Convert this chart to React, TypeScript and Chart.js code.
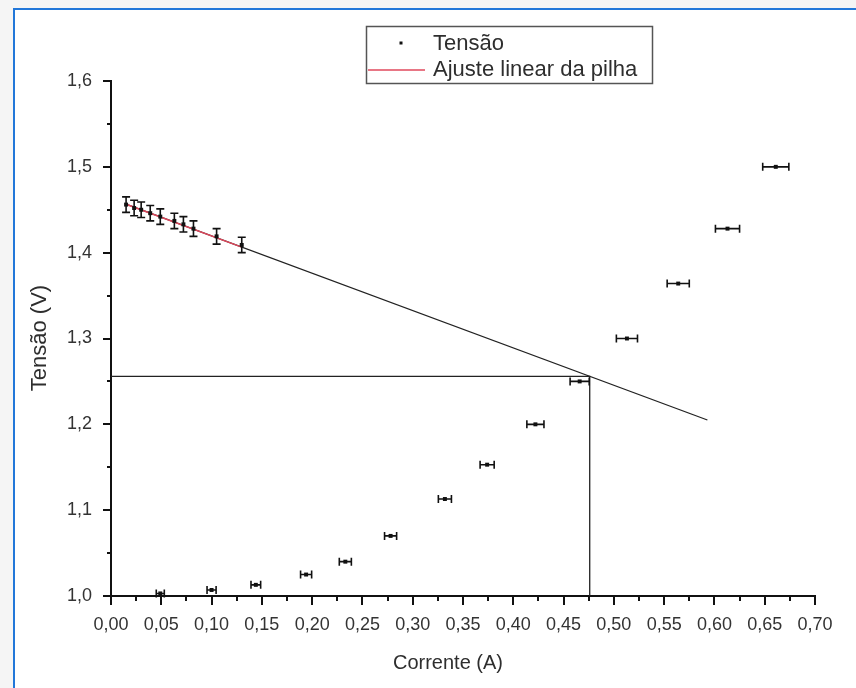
import React, { useEffect, useRef } from 'react';
import { Chart, registerables } from 'chart.js';

Chart.register(...registerables);

// Medidas da pilha (região linear) — corrente (A), tensão (V) e incerteza em V
const pilhaCorrente = [0.015, 0.023, 0.030, 0.039, 0.049, 0.063, 0.072, 0.082, 0.105, 0.130];
const pilhaTensao = [1.456, 1.452, 1.450, 1.446, 1.442, 1.437, 1.433, 1.428, 1.419, 1.409];
const pilhaErroTensao = [0.009, 0.009, 0.009, 0.009, 0.009, 0.009, 0.009, 0.009, 0.009, 0.009];

// Curva característica — corrente (A), tensão (V) e incerteza em A
const curvaCorrente = [0.049, 0.100, 0.144, 0.194, 0.233, 0.278, 0.332, 0.374, 0.422, 0.466, 0.513, 0.564, 0.613, 0.661];
const curvaTensao = [1.003, 1.007, 1.013, 1.025, 1.040, 1.070, 1.113, 1.153, 1.200, 1.250, 1.300, 1.364, 1.428, 1.500];
const curvaErroCorrente = [0.004, 0.0045, 0.0048, 0.0055, 0.006, 0.006, 0.0065, 0.007, 0.0085, 0.0095, 0.0105, 0.011, 0.012, 0.013];

// Ajuste linear V = a + b·I
const ajusteIntercepto = 1.463;
const ajusteInclinacao = -0.435;
const ajusteFaixaVermelha = [0.015, 0.13];
const ajusteFaixaPreta = [0.015, 0.593];
const correnteCruzamento = 0.476;

// Marcas dos eixos
const xTickValores = [0, 0.05, 0.1, 0.15, 0.2, 0.25, 0.3, 0.35, 0.4, 0.45, 0.5, 0.55, 0.6, 0.65, 0.7];
const yTickValores = [1.0, 1.1, 1.2, 1.3, 1.4, 1.5, 1.6];

const legendaRotulos = ['Tensão', 'Ajuste linear da pilha'];
const tituloX = 'Corrente (A)';
const tituloY = 'Tensão (V)';

const FONT = '"Liberation Sans", Arial, sans-serif';

const ajuste = (i: number) => ajusteIntercepto + ajusteInclinacao * i;
const virgula = (v: number, d: number) => v.toFixed(d).replace('.', ',');

const errorBarsPlugin = {
  id: 'errorBars',
  afterDatasetsDraw(chart: any) {
    const { ctx } = chart;
    const xs = chart.scales.x;
    const ys = chart.scales.y;
    ctx.save();
    ctx.strokeStyle = '#111';
    ctx.lineWidth = 1.6;
    chart.data.datasets.forEach((ds: any) => {
      const ex: number[] | undefined = ds.errX;
      const ey: number[] | undefined = ds.errY;
      if (!ex && !ey) return;
      ds.data.forEach((p: any, i: number) => {
        const px = xs.getPixelForValue(p.x);
        const py = ys.getPixelForValue(p.y);
        ctx.beginPath();
        if (ex && ex[i]) {
          const l = xs.getPixelForValue(p.x - ex[i]);
          const r = xs.getPixelForValue(p.x + ex[i]);
          ctx.moveTo(l, py); ctx.lineTo(r, py);
          ctx.moveTo(l, py - 4); ctx.lineTo(l, py + 4);
          ctx.moveTo(r, py - 4); ctx.lineTo(r, py + 4);
        }
        if (ey && ey[i]) {
          const t = ys.getPixelForValue(p.y + ey[i]);
          const b = ys.getPixelForValue(p.y - ey[i]);
          ctx.moveTo(px, t); ctx.lineTo(px, b);
          ctx.moveTo(px - 4, t); ctx.lineTo(px + 4, t);
          ctx.moveTo(px - 4, b); ctx.lineTo(px + 4, b);
        }
        ctx.stroke();
      });
    });
    ctx.restore();
  },
};

const axisTicksPlugin = {
  id: 'axisTicks',
  afterDraw(chart: any) {
    const { ctx, chartArea } = chart;
    const xs = chart.scales.x;
    const ys = chart.scales.y;
    ctx.save();
    ctx.strokeStyle = '#111';
    ctx.lineWidth = 2;
    ctx.beginPath();
    for (let k = 0; k <= 28; k++) {
      const v = k * 0.025;
      const px = Math.round(xs.getPixelForValue(v));
      const len = k % 2 === 0 ? 9 : 5;
      ctx.moveTo(px, chartArea.bottom);
      ctx.lineTo(px, chartArea.bottom + len);
    }
    for (let k = 0; k <= 12; k++) {
      const v = 1 + k * 0.05;
      const py = Math.round(ys.getPixelForValue(v));
      const len = k % 2 === 0 ? 8 : 4;
      ctx.moveTo(chartArea.left, py);
      ctx.lineTo(chartArea.left - len, py);
    }
    ctx.stroke();

    // Títulos dos eixos
    ctx.fillStyle = '#2e2e2e';
    ctx.textAlign = 'center';
    ctx.textBaseline = 'middle';
    ctx.font = `20px ${FONT}`;
    ctx.fillText(tituloX, 448, 663);
    ctx.translate(40, 338);
    ctx.rotate(-Math.PI / 2);
    ctx.font = `22px ${FONT}`;
    ctx.fillText(tituloY, 0, 0);
    ctx.restore();
  },
};

const legendPlugin = {
  id: 'boxLegend',
  afterDraw(chart: any) {
    const { ctx } = chart;
    ctx.save();
    ctx.strokeStyle = '#555';
    ctx.lineWidth = 1.5;
    ctx.strokeRect(366.5, 26.5, 286, 57);
    ctx.fillStyle = '#111';
    ctx.fillRect(399.5, 41.5, 3, 3);
    ctx.strokeStyle = '#e0485c';
    ctx.lineWidth = 1.5;
    ctx.beginPath();
    ctx.moveTo(368, 70);
    ctx.lineTo(425, 70);
    ctx.stroke();
    ctx.fillStyle = '#2e2e2e';
    ctx.font = `22px ${FONT}`;
    ctx.textBaseline = 'alphabetic';
    ctx.textAlign = 'left';
    ctx.fillText(legendaRotulos[0], 433, 50);
    ctx.fillText(legendaRotulos[1], 433, 76);
    ctx.restore();
  },
};

export default function App() {
  const canvasRef = useRef<HTMLCanvasElement | null>(null);

  useEffect(() => {
    const canvas = canvasRef.current;
    if (!canvas) return;

    const pilha = pilhaCorrente.map((x, i) => ({ x, y: pilhaTensao[i] }));
    const curva = curvaCorrente.map((x, i) => ({ x, y: curvaTensao[i] }));
    const retaVermelha = ajusteFaixaVermelha.map((x) => ({ x, y: ajuste(x) }));
    const retaPreta = ajusteFaixaPreta.map((x) => ({ x, y: ajuste(x) }));
    const vCruz = ajuste(correnteCruzamento);
    const guias = [
      { x: 0, y: vCruz },
      { x: correnteCruzamento, y: vCruz },
      { x: correnteCruzamento, y: 1.0 },
    ];

    const chart = new Chart(canvas, {
      type: 'scatter',
      data: {
        datasets: [
          {
            label: legendaRotulos[0],
            data: pilha,
            errY: pilhaErroTensao,
            pointStyle: 'rect',
            pointRadius: 2.8,
            backgroundColor: '#111',
            borderColor: '#111',
            borderWidth: 0,
          } as any,
          {
            label: legendaRotulos[0] + ' (curva)',
            data: curva,
            errX: curvaErroCorrente,
            pointStyle: 'rect',
            pointRadius: 2.8,
            backgroundColor: '#111',
            borderColor: '#111',
            borderWidth: 0,
          } as any,
          {
            type: 'line',
            label: legendaRotulos[1],
            data: retaVermelha,
            borderColor: '#e0485c',
            borderWidth: 1.5,
            pointRadius: 0,
            showLine: true,
            fill: false,
          } as any,
          {
            type: 'line',
            label: 'reta',
            data: retaPreta,
            borderColor: '#222',
            borderWidth: 1.3,
            pointRadius: 0,
            showLine: true,
            fill: false,
          } as any,
          {
            type: 'line',
            label: 'guias',
            data: guias,
            borderColor: '#222',
            borderWidth: 1.3,
            pointRadius: 0,
            showLine: true,
            fill: false,
          } as any,
        ],
      },
      options: {
        responsive: false,
        animation: false,
        events: [],
        layout: { padding: { top: 81, right: 41, bottom: 0, left: 0 } },
        plugins: {
          legend: { display: false },
          tooltip: { enabled: false },
        },
        scales: {
          x: {
            type: 'linear',
            position: 'bottom',
            min: 0,
            max: 0.7,
            afterBuildTicks: (s: any) => {
              s.ticks = xTickValores.map((value) => ({ value }));
            },
            afterFit: (s: any) => {
              s.height = 92;
              s.paddingLeft = 0;
              s.paddingRight = 0;
            },
            grid: { display: false, drawTicks: false },
            border: { display: true, color: '#111', width: 2 },
            ticks: {
              padding: 18,
              color: '#333',
              font: { family: FONT, size: 18 },
              maxRotation: 0,
              autoSkip: false,
              callback: (v: any) => virgula(Number(v), 2),
            },
            title: { display: false },
          },
          y: {
            type: 'linear',
            position: 'left',
            min: 1.0,
            max: 1.6,
            afterBuildTicks: (s: any) => {
              s.ticks = yTickValores.map((value) => ({ value }));
            },
            afterFit: (s: any) => {
              s.width = 111;
              s.paddingTop = 0;
              s.paddingBottom = 0;
            },
            grid: { display: false, drawTicks: false },
            border: { display: true, color: '#111', width: 2 },
            ticks: {
              padding: 19,
              color: '#333',
              font: { family: FONT, size: 18 },
              autoSkip: false,
              callback: (v: any) => virgula(Number(v), 1),
            },
            title: { display: false },
          },
        },
      },
      plugins: [errorBarsPlugin, axisTicksPlugin, legendPlugin],
    });

    return () => chart.destroy();
  }, []);

  return (
    <div
      style={{
        position: 'fixed',
        left: 0,
        top: 0,
        width: 856,
        height: 688,
        background: '#f5f5f5',
        overflow: 'hidden',
      }}
    >
      <div
        style={{
          position: 'absolute',
          left: 13,
          top: 8,
          width: 900,
          height: 720,
          background: '#ffffff',
          borderLeft: '2px solid #2277d9',
          borderTop: '2px solid #2277d9',
        }}
      />
      <canvas
        ref={canvasRef}
        width={856}
        height={688}
        style={{ position: 'absolute', left: 0, top: 0, width: 856, height: 688 }}
      />
    </div>
  );
}
